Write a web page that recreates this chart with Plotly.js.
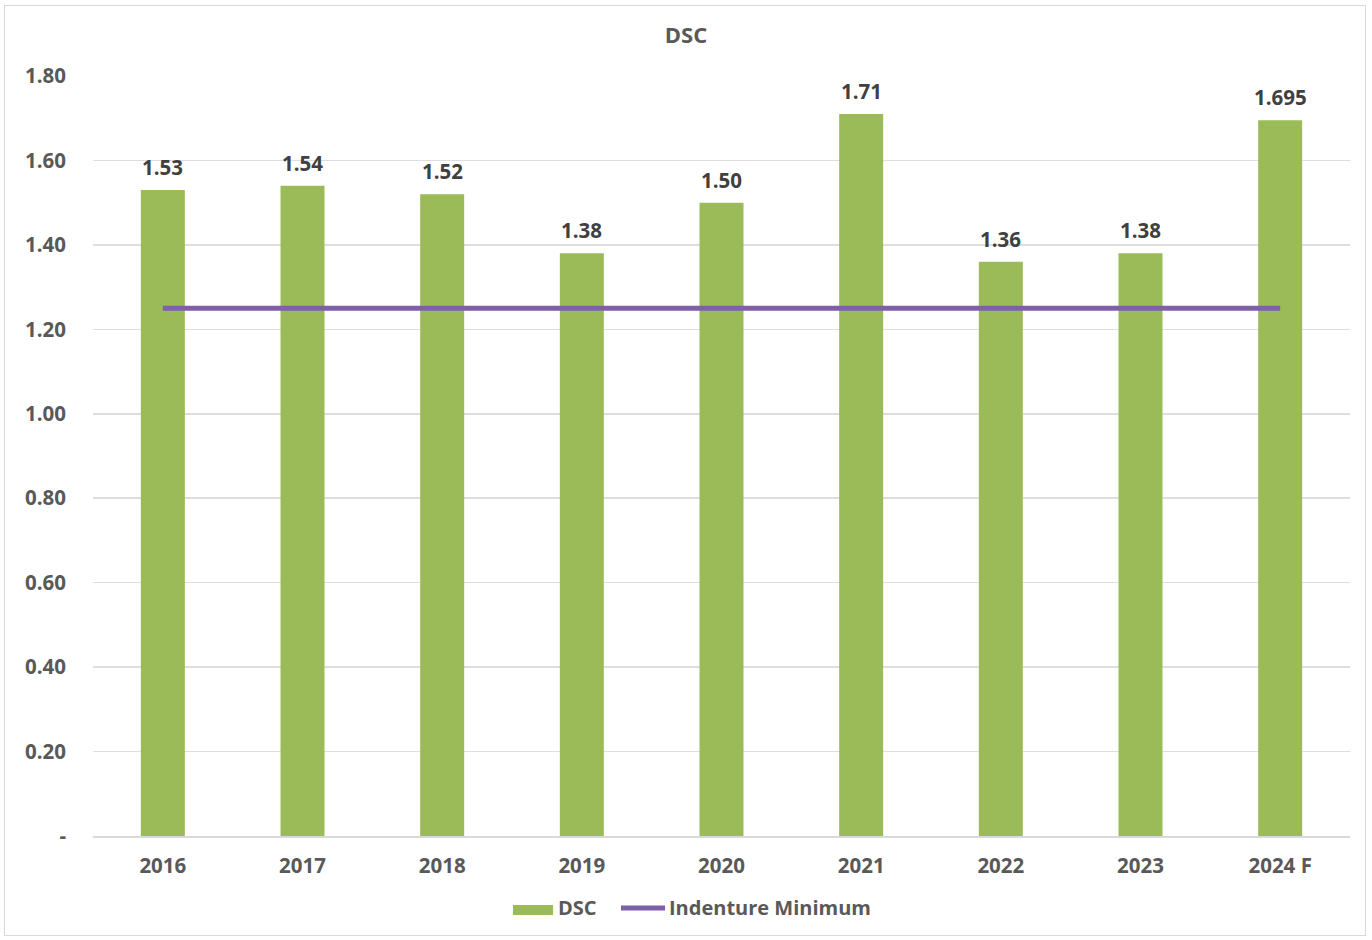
<!DOCTYPE html>
<html>
<head>
<meta charset="utf-8">
<script src="https://cdn.plot.ly/plotly-3.0.1.min.js"></script>
<style>
  html, body { margin: 0; padding: 0; background: #fff; }
  #frame { position: absolute; left: 4px; top: 5px; width: 1362px; height: 931px; border: 1.5px solid #d9d9d9; box-sizing: border-box; }
  #chart { position: absolute; left: 0; top: 0; width: 1372px; height: 940px; }
</style>
</head>
<body>
<div id="frame"></div>
<div id="chart"></div>
<script>
const years = ["2016", "2017", "2018", "2019", "2020", "2021", "2022", "2023", "2024 F"];
const dscValues = [1.53, 1.54, 1.52, 1.38, 1.50, 1.71, 1.36, 1.38, 1.695];
const dscLabels = ["1.53", "1.54", "1.52", "1.38", "1.50", "1.71", "1.36", "1.38", "1.695"];
const indentureMinimum = [1.25, 1.25, 1.25, 1.25, 1.25, 1.25, 1.25, 1.25, 1.25];
const yTickVals = [0, 0.2, 0.4, 0.6, 0.8, 1.0, 1.2, 1.4, 1.6, 1.8];
const yTickText = ["-", "0.20", "0.40", "0.60", "0.80", "1.00", "1.20", "1.40", "1.60", "1.80"];
const seriesNames = ["DSC", "Indenture Minimum"];

const fontFam = "'Open Sans', 'Liberation Sans', sans-serif";
const txtColor = "#595959";
const barColor = "#9BBB59";
const lineColor = "#7F5FA8";

const traces = [
  {
    type: "bar",
    name: seriesNames[0],
    x: years,
    y: dscValues,
    marker: { color: barColor },
    hoverinfo: "x+y"
  },
  {
    type: "scatter",
    mode: "lines",
    name: seriesNames[1],
    x: years,
    y: indentureMinimum,
    line: { color: lineColor, width: 5 }
  }
];

// data labels above bars, placed through the axes (category index on x)
const labelAnnotations = years.map((yr, i) => ({
  x: i,
  y: dscValues[i],
  xref: "x",
  yref: "y",
  text: "<b>" + dscLabels[i] + "</b>",
  showarrow: false,
  yanchor: "bottom",
  xanchor: "center",
  yshift: 7,
  font: { family: fontFam, size: 20.5, color: "#404040" }
}));

// custom legend (wide swatch like the original)
const legendFont = { family: fontFam, size: 20, color: txtColor };
const legendY = -0.0947;
const legendAnnotations = [
  { xref: "paper", yref: "paper", x: 0.3683, y: legendY, xanchor: "left", yanchor: "middle",
    text: "<b>" + seriesNames[0] + "</b>", showarrow: false, font: legendFont },
  { xref: "paper", yref: "paper", x: 0.4566, y: legendY, xanchor: "left", yanchor: "middle",
    text: "<b>" + seriesNames[1] + "</b>", showarrow: false, font: legendFont }
];
const legendShapes = [
  { type: "rect", xref: "paper", yref: "paper", x0: 0.3341, x1: 0.3660, y0: -0.1039, y1: -0.0908,
    fillcolor: barColor, line: { width: 0 } },
  { type: "line", xref: "paper", yref: "paper", x0: 0.4200, x1: 0.4551, y0: legendY, y1: legendY,
    line: { color: lineColor, width: 5 } }
];

const layout = {
  width: 1372,
  height: 940,
  paper_bgcolor: "rgba(0,0,0,0)",
  plot_bgcolor: "rgba(0,0,0,0)",
  margin: { l: 93, r: 22, t: 76, b: 104 },
  title: {
    text: "<b>DSC</b>",
    x: 0.5,
    xanchor: "center",
    y: 1 - 35 / 940,
    yanchor: "middle",
    font: { family: fontFam, size: 22, color: txtColor }
  },
  bargap: 0.685,
  showlegend: false,
  annotations: labelAnnotations.concat(legendAnnotations),
  shapes: legendShapes,
  xaxis: {
    type: "category",
    categoryorder: "array",
    categoryarray: years,
    range: [-0.5, years.length - 0.5],
    showgrid: false,
    showline: true,
    linecolor: "#d9d9d9",
    linewidth: 1.5,
    ticks: "",
    tickfont: { family: fontFam, size: 20.5, color: txtColor, weight: "bold" },
    ticklabelstandoff: 11
  },
  yaxis: {
    range: [0, 1.8],
    tickvals: yTickVals,
    ticktext: yTickText,
    showgrid: true,
    gridcolor: "#dedede",
    gridwidth: 1.5,
    zeroline: false,
    showline: false,
    ticks: "",
    tickfont: { family: fontFam, size: 20.5, color: txtColor, weight: "bold" },
    ticklabelstandoff: 26
  }
};

Plotly.newPlot("chart", traces, layout, { displayModeBar: false, staticPlot: true });
</script>
</body>
</html>
